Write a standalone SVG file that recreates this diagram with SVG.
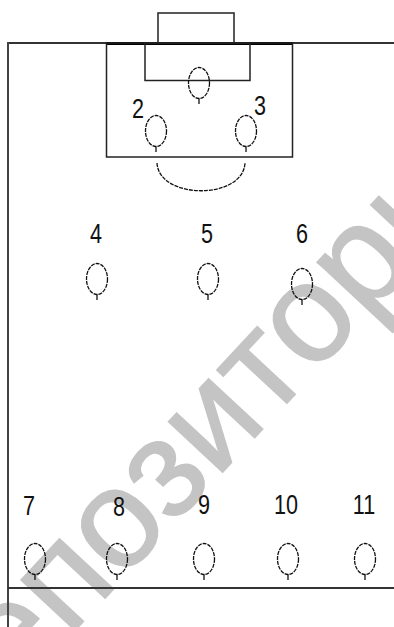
<svg xmlns="http://www.w3.org/2000/svg" width="394" height="627" viewBox="0 0 394 627">
<style>
.ln{stroke:#222;fill:none;stroke-width:1.5}
.pl{stroke:#111;fill:none;stroke-width:1.3;stroke-dasharray:4 1}
.tl{stroke:#111;stroke-width:1.3}
.lb{font-family:"Liberation Sans",Arial,sans-serif;font-size:27px;fill:#111;text-anchor:middle}
.wm{font-family:"Liberation Sans",Arial,sans-serif;font-size:140px;fill:#c4c4c4;stroke:#c4c4c4;stroke-width:1.5}
</style>
<defs>
<g id="p"><ellipse cx="0" cy="0" rx="10.5" ry="15.5" class="pl"/><line x1="0" y1="15.5" x2="0" y2="21" class="tl"/></g>
</defs>
<rect width="394" height="627" fill="#fff"/>
<g id="watermark"><text class="wm" transform="translate(120,528) rotate(-47)" x="-271" y="37">репозиторий</text></g>
<g id="field">
<line x1="8" y1="43" x2="394" y2="43" stroke="#333" stroke-width="2"/>
<line x1="8" y1="42" x2="8" y2="627" stroke="#444" stroke-width="2"/>
<line x1="8" y1="588" x2="394" y2="588" stroke="#333" stroke-width="2"/>
<line x1="106" y1="43.5" x2="293" y2="43.5" stroke="#000" stroke-width="3"/>
<rect x="158" y="13" width="76" height="30" class="ln"/>
<rect x="106.5" y="43" width="186" height="114" class="ln"/>
<rect x="145" y="43" width="105" height="37.5" class="ln"/>
<path d="M157,163 C159,200 243,200 245,163" class="pl"/>
</g>
<g id="players">
<g id="n1"><use href="#p" x="199" y="83"/></g>
<g id="n2"><use href="#p" x="156" y="131"/><text class="lb" transform="translate(138,118) scale(0.8,1)">2</text></g>
<g id="n3"><use href="#p" x="246" y="131"/><text class="lb" transform="translate(260,115) scale(0.8,1)">3</text></g>
<g id="n4"><use href="#p" x="97" y="279"/><text class="lb" transform="translate(96,243) scale(0.8,1)">4</text></g>
<g id="n5"><use href="#p" x="208" y="279"/><text class="lb" transform="translate(207,243) scale(0.8,1)">5</text></g>
<g id="n6"><use href="#p" x="302" y="284"/><text class="lb" transform="translate(302,243) scale(0.8,1)">6</text></g>
<g id="n7"><use href="#p" x="35" y="559"/><text class="lb" transform="translate(29,515) scale(0.8,1)">7</text></g>
<g id="n8"><use href="#p" x="117" y="559"/><text class="lb" transform="translate(119,516) scale(0.8,1)">8</text></g>
<g id="n9"><use href="#p" x="204" y="559"/><text class="lb" transform="translate(204,514) scale(0.8,1)">9</text></g>
<g id="n10"><use href="#p" x="288" y="559"/><text class="lb" transform="translate(286,514) scale(0.8,1)">10</text></g>
<g id="n11"><use href="#p" x="365" y="559"/><text class="lb" transform="translate(364,514) scale(0.8,1)">11</text></g>
</g>
<g id="connectors"></g>
</svg>
